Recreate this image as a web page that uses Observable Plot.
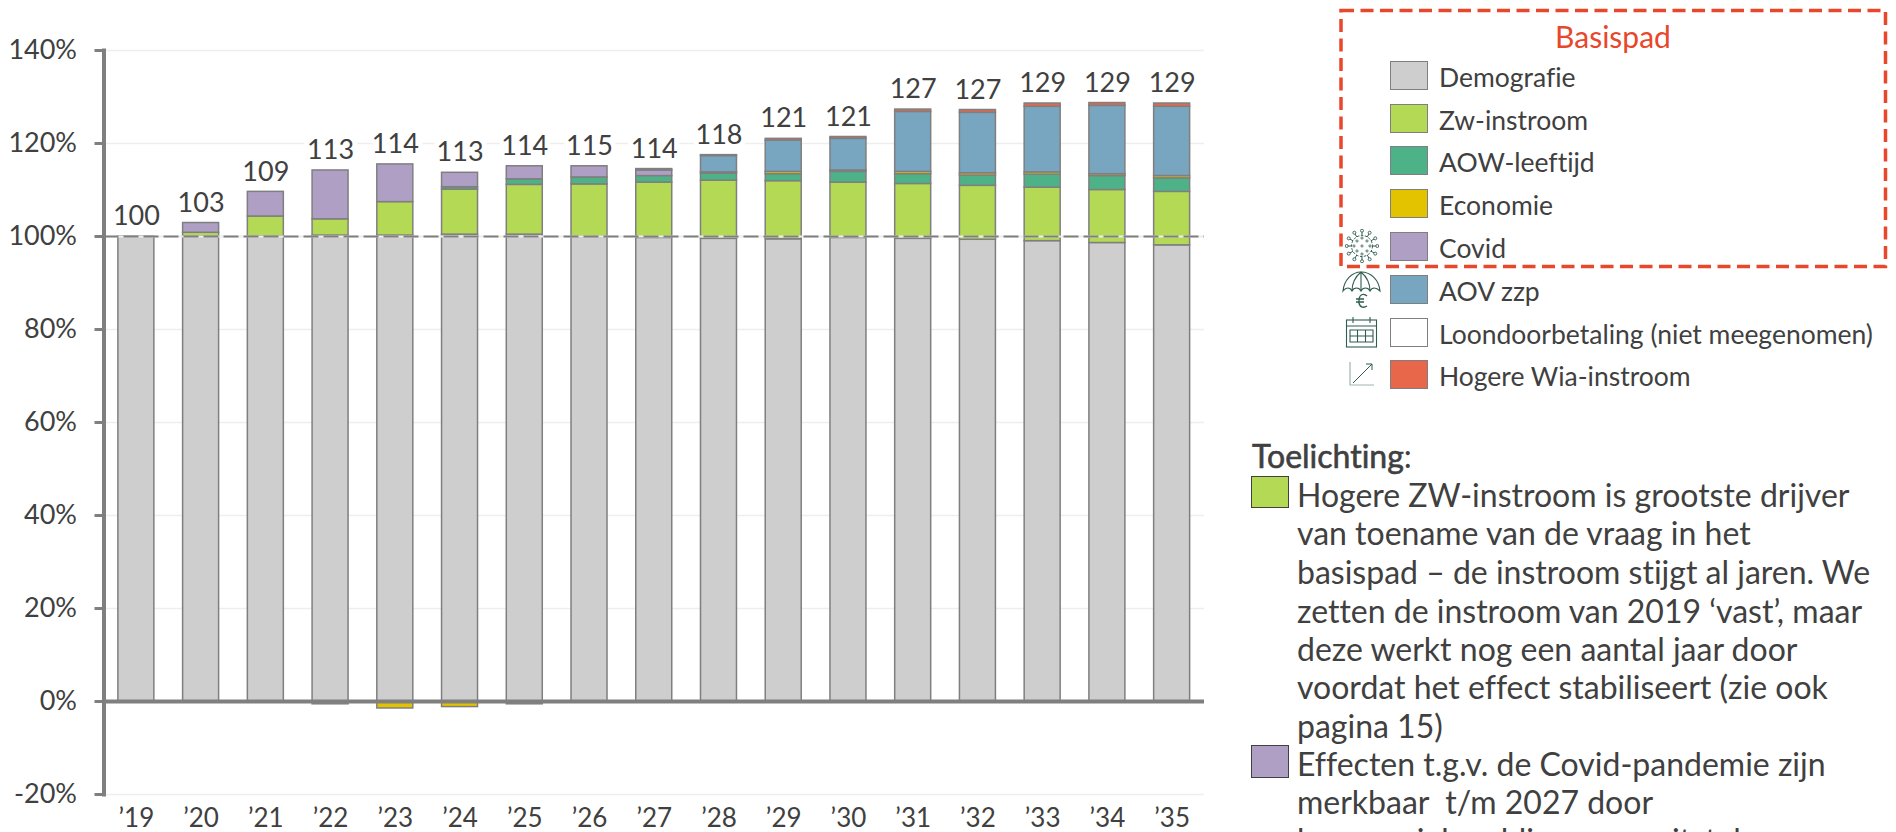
<!DOCTYPE html>
<html><head><meta charset="utf-8">
<script src="https://cdn.jsdelivr.net/npm/d3@7"></script>
<script src="https://cdn.jsdelivr.net/npm/@observablehq/plot@0.6"></script>
<style>
html,body{margin:0;padding:0;background:#fff;width:1896px;height:832px;overflow:hidden;font-family:Lato,sans-serif;color:#404040;font-variant-ligatures:none}
#chart{position:absolute;left:0;top:0}
.abs{position:absolute;white-space:pre}
.sw{position:absolute;box-sizing:border-box;border:1.5px solid #7f7f7f}
.lt{position:absolute;white-space:pre;font-size:26.5px;line-height:30px}
#notes div{position:absolute;left:1297px;white-space:pre;font-size:32px;line-height:38px}
</style></head><body>
<div id="chart"></div>
<div id="side"></div>
<script>
const years = ["’19","’20","’21","’22","’23","’24","’25","’26","’27","’28","’29","’30","’31","’32","’33","’34","’35"];
const totals = [100,103,109,113,114,113,114,115,114,118,121,121,127,127,129,129,129];
const demografie = [100,100,100,100.2,100.2,100.4,100.4,99.9,99.7,99.5,99.4,99.7,99.5,99.3,99,98.6,98.1];
const zwInstroom = [0,0.8,4.3,3.5,7.2,9.7,10.7,11.3,11.9,12.5,12.5,11.9,11.8,11.6,11.5,11.4,11.5];
const aowLeeftijd = [0,0,0,0,0,0.5,1.2,1.5,1.4,1.5,1.5,2.3,2.1,2.2,2.8,3,2.9];
const economie = [0,0,0,-0.6,-1.5,-1.2,-0.6,-0.2,0,0.3,0.5,0.3,0.5,0.5,0.5,0.4,0.5];
const covid = [0,2.1,5.3,10.5,8.1,3.1,2.8,2.4,1.2,0,0,0,0,0,0,0,0];
const aovZzp = [0,0,0,0,0,0,0,0,0.3,3.5,6.7,6.8,12.9,13,14.1,14.7,14.9];
const loondoorbetaling = [0,0,0,0,0,0,0,0,0,0,0,0,0,0,0,0,0];
const wiaInstroom = [0,0,0,0,0,0,0,0,0,0.2,0.4,0.4,0.5,0.6,0.7,0.6,0.7];

const seriesNames = ["Demografie","Zw-instroom","AOW-leeftijd","Economie","Covid","AOV zzp","Loondoorbetaling (niet meegenomen)","Hogere Wia-instroom"];
const seriesValues = [demografie,zwInstroom,aowLeeftijd,economie,covid,aovZzp,loondoorbetaling,wiaInstroom];
const seriesColors = ["#cecece","#b4d955","#4eb289","#e3c200","#b09fc5","#78a5bf","#ffffff","#e8674a"];
const yTicks = [-20,0,20,40,60,80,100,120,140];
const gridTicks = [-20,20,40,60,80,100,120,140];

const rows = seriesNames.flatMap((s,i)=>years.map((y,j)=>({year:y,series:s,value:seriesValues[i][j]}))).filter(d=>d.value!==0);
const labels = years.map((y,j)=>({year:y,total:totals[j],top:d3.sum(seriesValues,v=>Math.max(0,v[j]))}));
const axisGray = "#7f7f7f", textCol = "#404040";

const plot = Plot.plot({
  width:1896,height:832,
  marginLeft:103.5,marginRight:692,marginTop:50,marginBottom:38,
  style:{fontFamily:"Lato,sans-serif",fontSize:"27px",background:"transparent",color:textCol,fontVariantLigatures:"none"},
  x:{domain:years,paddingInner:0.444,paddingOuter:0.222,align:0.5,round:false,label:null},
  y:{domain:[-20,140],label:null},
  color:{domain:seriesNames,range:seriesColors},
  marks:[
    Plot.ruleY(gridTicks,{stroke:"#eeeeee",strokeWidth:1.5}),
    Plot.barY(rows,{x:"year",y:"value",fill:"series",order:seriesNames,stroke:axisGray,strokeWidth:1.5}),
    Plot.ruleY([100],{stroke:"#eeeeee",strokeWidth:2}),
    Plot.ruleY([100],{stroke:axisGray,strokeWidth:2,strokeDasharray:"15,5"}),
    Plot.ruleY([0],{stroke:axisGray,strokeWidth:4}),
    Plot.frame({anchor:"left",stroke:axisGray,strokeWidth:4}),
    Plot.axisY({ticks:yTicks,tickFormat:d=>d+"%",tickSize:9,tickPadding:18,stroke:axisGray,strokeWidth:3,label:null,fontSize:27,fill:textCol}),
    Plot.axisX({tickSize:0,tickPadding:14,label:null,fontSize:26,fill:textCol}),
    Plot.text(labels,{x:"year",y:"top",text:d=>String(d.total),dy:-20,fontSize:27,fill:textCol,stroke:"#fff",strokeWidth:10})
  ]
});
document.getElementById("chart").append(plot);

// right-hand column
const side = document.getElementById("side");
function html(s){side.insertAdjacentHTML("beforeend",s);}
const rowTops = [61,104,146,189,232,275,318,360];
html(`<svg class="abs" style="left:0;top:0" width="1896" height="832"><rect x="1341" y="10.5" width="544.5" height="256" fill="none" stroke="#e8472b" stroke-width="3.5" stroke-dasharray="13,6.5"/></svg>`);
html(`<div class="abs" style="left:1340px;width:546px;top:19px;text-align:center;font-size:30px;line-height:34px;color:#e8472b">Basispad</div>`);
seriesNames.forEach((s,i)=>{
  html(`<div class="sw" style="left:1390px;top:${rowTops[i]}px;width:38px;height:29px;background:${seriesColors[i]}"></div>`);
  html(`<div class="lt" style="left:1439px;top:${rowTops[i]+1}px">${s}</div>`);
});
// icons
const ic = "#2f5d50";
let virus = `<circle cx="17" cy="17" r="10.5" fill="none" stroke="${ic}" stroke-width="1" stroke-dasharray="2.5,1.5"/>`;
for(let a=0;a<12;a++){const t=a*Math.PI/6,c=Math.cos(t),s=Math.sin(t);
  virus+=`<line x1="${17+10.5*c}" y1="${17+10.5*s}" x2="${17+14*c}" y2="${17+14*s}" stroke="${ic}"/><circle cx="${17+15.3*c}" cy="${17+15.3*s}" r="1.5" fill="#fff" stroke="${ic}" stroke-width=".9"/>`;}
[[17,17],[12,12],[22,12],[12,22],[22,22],[17,9],[17,25],[9,17],[25,17]].forEach(p=>virus+=`<circle cx="${p[0]}" cy="${p[1]}" r="1.1" fill="none" stroke="${ic}" stroke-width=".8"/>`);
html(`<svg class="abs" style="left:1345px;top:229px" width="34" height="34">${virus}</svg>`);
html(`<svg class="abs" style="left:1342px;top:270px" width="40" height="40" fill="none" stroke="${ic}" stroke-width="1.1"><path d="M1 21C2 10 10 2 19 2C29 2 37 10 38 21C34 17 30 17 28 21C26 17 21 17 19 21C17 17 12 17 10 21C8 17 4 17 1 21Z"/><path d="M19 2C13 7 10 14 10 21M19 2C25 7 28 14 28 21M19 2V21"/><path d="M25 26C22 23 18 24 17 29V33C18 38 22 38 25 36M14 29H22M14 32H22" stroke-width="1.3"/></svg>`);
html(`<svg class="abs" style="left:1345px;top:316px" width="34" height="33" fill="none" stroke="${ic}" stroke-width="1.1"><rect x="1.5" y="4" width="30" height="27"/><path d="M1.5 10H31.5M8 1V7M25 1V7"/><path d="M5 14H28V26H5ZM5 20H28M12.5 14V26M20.5 14V26"/></svg>`);
html(`<svg class="abs" style="left:1348px;top:361px" width="28" height="27" fill="none"><path d="M2 1V24H26" stroke="#9fb5ae" stroke-width="1.2"/><path d="M5 22L24 3M18 3H24V9" stroke="${ic}" stroke-width="1"/></svg>`);

const noteLines1 = ["Hogere ZW-instroom is grootste drijver","van toename van de vraag in het","basispad – de instroom stijgt al jaren. We","zetten de instroom van 2019 ‘vast’, maar","deze werkt nog een aantal jaar door","voordat het effect stabiliseert (zie ook","pagina 15)"];
const noteLines2 = ["Effecten t.g.v. de Covid-pandemie zijn","merkbaar  t/m 2027 door","hogere ziekmeldingen en uitstel van zorg"];
html(`<div class="abs" style="left:1252px;top:438px;font-size:32px;line-height:36px;-webkit-text-stroke:.6px #404040"><span>Toelichting</span><span style="-webkit-text-stroke:0">:</span></div>`);
html(`<div class="sw" style="left:1251px;top:476px;width:38px;height:32px;background:#b4d955;border-color:#404040;border-width:1px"></div>`);
html(`<div class="sw" style="left:1251px;top:745px;width:38px;height:33px;background:#b09fc5;border-color:#404040;border-width:1px"></div>`);
const notesEl=document.createElement("div");notesEl.id="notes";side.append(notesEl);
const lineTop=[476,514,553,592,630,668,707,745,783,821];
[...noteLines1,...noteLines2].forEach((t,i)=>{const d=document.createElement("div");d.style.top=lineTop[i]+"px";d.textContent=t;notesEl.append(d);});
</script>
</body></html>
